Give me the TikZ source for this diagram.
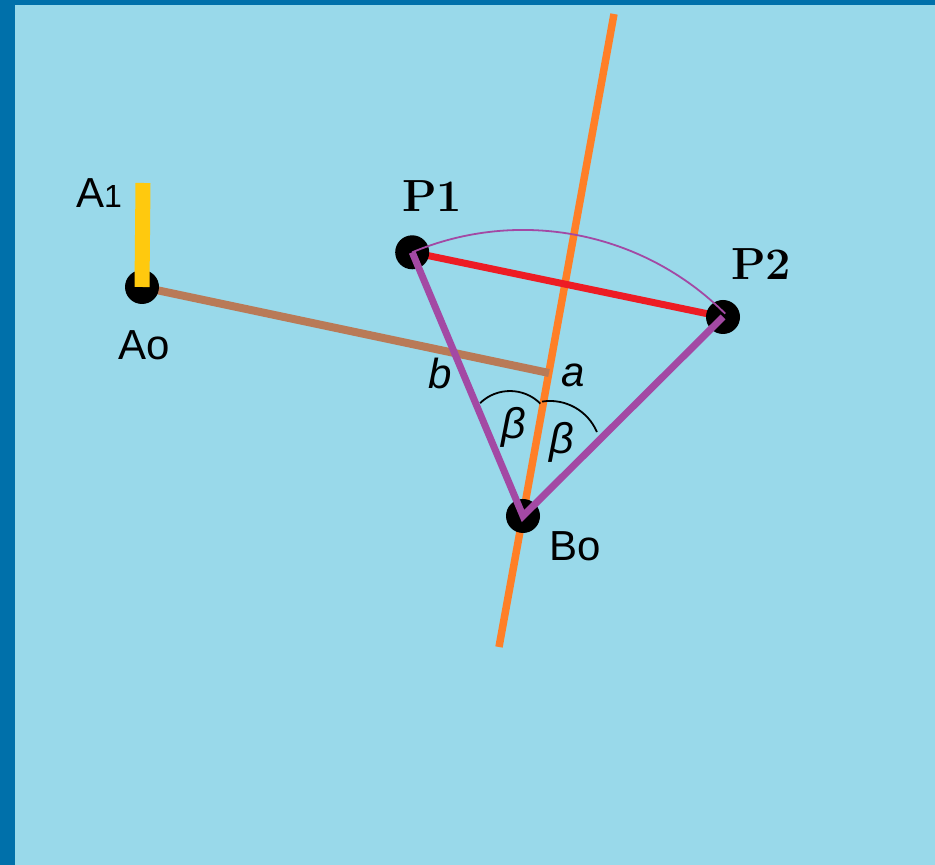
\documentclass[tikz,border=0pt]{standalone}
\usepackage{fontspec}
\usepackage{tikz}
\usetikzlibrary{calc, positioning}
\usepackage{xcolor}
\definecolor{framedark}{RGB}{0, 112, 170}
\definecolor{paneblue}{RGB}{153, 217, 234}
\definecolor{barorange}{RGB}{255, 127, 39}
\definecolor{linkbrown}{RGB}{185, 122, 87}
\definecolor{linkred}{RGB}{237, 28, 36}
\definecolor{linkpurple}{RGB}{163, 73, 164}
\definecolor{crankgold}{RGB}{255, 201, 14}
\newfontfamily\sanslabel{Liberation Sans}

\begin{document}
\begin{tikzpicture}[x=1pt, y=1pt,
    lbl/.style={inner sep=0pt, font=\sanslabel\fontsize{42}{44}\selectfont},
    plbl/.style={inner sep=0pt, font=\fontsize{45}{48}\selectfont\bfseries},
    anglbl/.style={inner sep=0pt, font=\sanslabel\itshape\fontsize{43}{44}\selectfont}]
    % Rahmen
    \useasboundingbox (0,0) rectangle (935,865);
    \fill[framedark] (0,0) rectangle (935,865);
    \fill[paneblue] (15,0) rectangle (935,860);

    \coordinate (A0) at (142,578);
    \coordinate (A1) at (143,682);
    \coordinate (P1) at (412.2,612.7);
    \coordinate (P2) at (723,548);
    \coordinate (B0) at (523,349);
    \coordinate (Mtop) at (614,851);
    \coordinate (Mbot) at (499,218);
    \coordinate (Ka) at (549,492);

    % Mittelsenkrechte
    \draw[barorange, line width=7.5pt] (Mbot) -- (Mtop);

    % Koppel und Sehne
    \draw[linkbrown, line width=8pt] (A0) -- (Ka);
    \draw[linkred, line width=7pt] (P1) -- (P2);

    % Gelenkpunkte
    \fill (A0) circle (17);
    \fill (P1) circle (17);
    \fill (P2) circle (17);
    \fill (B0) circle (17);

    % Schwinge in beiden Lagen
    \draw[linkpurple, line width=7pt] (P1) -- (B0) -- (P2);
    \draw[linkpurple, line width=1.8pt] (P1) arc[start angle=112.8, end angle=45, radius=286];

    % Winkelboegen
    \draw[line width=1.8pt] (480.1,461.9) arc[start angle=134, end angle=45, radius=43];
    \draw[line width=1.8pt] (542,463.4) arc[start angle=99, end angle=23, radius=51];

    % Antriebskurbel
    \draw[crankgold, line width=15pt] (A0) -- (A1);

    % Beschriftung
    \node[lbl, anchor=base west] (lblA1) at (76,657) {A{\fontsize{32}{32}\selectfont 1}};
    \node[lbl, anchor=base west] (lblA0) at (118,505) {Ao};
    \node[lbl, anchor=base west] (lblB0) at (549,304) {Bo};
    \node[plbl, anchor=base west] (lblP1) at (402,653) {P1};
    \node[plbl, anchor=base west] (lblP2) at (731,585) {P2};
    \node[lbl, anchor=base west, font=\sanslabel\itshape\fontsize{42}{44}\selectfont] (lbla) at (561,478) {a};
    \node[lbl, anchor=base west, font=\sanslabel\itshape\fontsize{42}{44}\selectfont] (lblb) at (428,476) {b};
    \node[anglbl] (beta1) at (514,438) {β};
    \node[anglbl] (beta2) at (562,423) {β};
\end{tikzpicture}
\end{document}
